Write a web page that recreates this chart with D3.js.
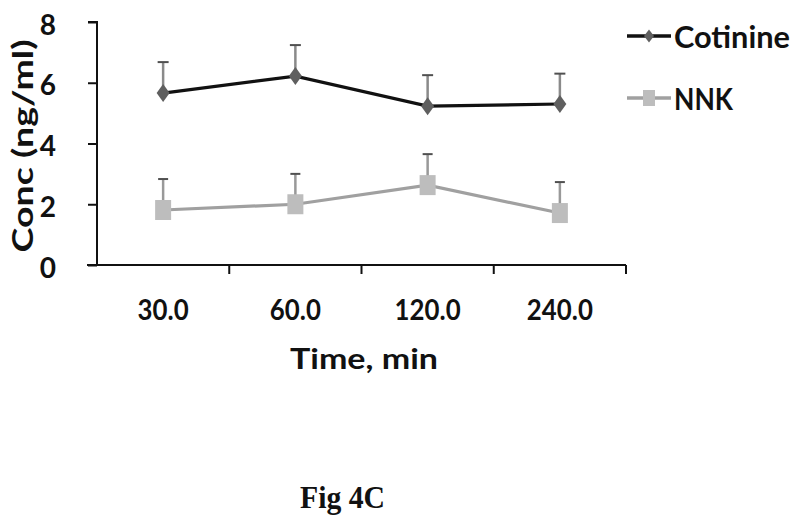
<!DOCTYPE html>
<html><head><meta charset="utf-8">
<script src="https://cdn.jsdelivr.net/npm/d3@7"></script>
<style>body{margin:0;background:#fff}svg{display:block}</style>
</head><body>
<svg id="c" width="800" height="524"></svg>
<script>
const categories = ["30.0", "60.0", "120.0", "240.0"];
const cotinine = [5.66, 6.22, 5.23, 5.30];
const cotinineErr = [1.02, 1.02, 1.02, 1.0];
const nnk = [1.81, 2.0, 2.63, 1.71];
const nnkErr = [1.02, 1.0, 1.02, 1.02];
const yTicks = [0, 2, 4, 6, 8];

const svg = d3.select("#c");
const x = d3.scaleBand().domain(categories).range([97, 626]).padding(0);
const y = d3.scaleLinear().domain([0, 8]).range([265, 22]);
const font = "Lato, 'Open Sans', sans-serif";

function fit(sel, factor) {
  sel.each(function () {
    const len = this.getComputedTextLength();
    d3.select(this).attr("textLength", len * factor).attr("lengthAdjust", "spacingAndGlyphs");
  });
}
function fitTo(sel, w) {
  sel.attr("textLength", w).attr("lengthAdjust", "spacingAndGlyphs");
}

// Y axis
const ya = svg.append("g").attr("transform", "translate(97,0)")
  .call(d3.axisLeft(y).tickValues(yTicks).tickSize(9).tickPadding(32).tickFormat(d3.format("d")));
ya.select(".domain").attr("stroke", "#111").attr("stroke-width", 2).attr("d", `M-9,${y(8)}H0V${y(0)}`);
ya.selectAll(".tick line").attr("stroke", "#111").attr("stroke-width", 2);
ya.selectAll(".tick text").attr("font-family", font).attr("font-weight", "bold").attr("font-size", 28)
  .attr("fill", "#111").attr("dy", 12);

// X axis
const xa = svg.append("g").attr("transform", "translate(0,265)")
  .call(d3.axisBottom(x).tickSize(0));
xa.select(".domain").attr("stroke", "#111").attr("stroke-width", 2).attr("d", `M87,0H${x.range()[1]}`);
const xt = xa.selectAll(".tick text").attr("font-family", font).attr("font-weight", "bold").attr("font-size", 29)
  .attr("fill", "#111").attr("y", 55).attr("dy", 0);
fit(xt, 0.89);
const bounds = categories.map(c => x(c)).concat([x.range()[1]]);
xa.selectAll(".bt").data(bounds.slice(1)).enter().append("line")
  .attr("x1", d => d).attr("x2", d => d).attr("y1", 0).attr("y2", 9)
  .attr("stroke", "#111").attr("stroke-width", 2);

// axis titles
fitTo(svg.append("text").attr("x", 364).attr("y", 369).attr("text-anchor", "middle")
  .attr("font-family", font).attr("font-weight", "bold").attr("font-size", 28).attr("fill", "#111").text("Time, min"), 148);
fitTo(svg.append("text").attr("transform", "translate(33,146) rotate(-90)").attr("text-anchor", "middle")
  .attr("font-family", font).attr("font-weight", "bold").attr("font-size", 28).attr("fill", "#111").text("Conc (ng/ml)"), 213);

const cx = d => x(d) + x.bandwidth() / 2;
const diamond = (w, h) => `M0,${-h}L${w},0L0,${h}L${-w},0Z`;
const square = (w, h) => `M${-w},${-h}H${w}V${h}H${-w}Z`;

function series(vals, errs, lineColor, lineW, errColor, capW, markerColor, shapePath) {
  const pts = categories.map((c, i) => ({c, v: vals[i], e: errs[i]}));
  svg.append("g").selectAll("line").data(pts).enter().append("line")
    .attr("x1", d => cx(d.c)).attr("x2", d => cx(d.c))
    .attr("y1", d => y(d.v)).attr("y2", d => y(d.v + d.e))
    .attr("stroke", errColor).attr("stroke-width", 2.5);
  svg.append("g").selectAll("line").data(pts).enter().append("line")
    .attr("x1", d => cx(d.c) - capW).attr("x2", d => cx(d.c) + capW)
    .attr("y1", d => y(d.v + d.e)).attr("y2", d => y(d.v + d.e))
    .attr("stroke", "#505050").attr("stroke-width", 2);
  svg.append("path").datum(pts)
    .attr("d", d3.line().x(d => cx(d.c)).y(d => y(d.v)))
    .attr("fill", "none").attr("stroke", lineColor).attr("stroke-width", lineW);
  svg.append("g").selectAll("path").data(pts).enter().append("path")
    .attr("transform", d => `translate(${cx(d.c)},${y(d.v)})`)
    .attr("d", shapePath)
    .attr("fill", markerColor);
}
series(cotinine, cotinineErr, "#111", 3.2, "#8a8a8a", 5.5, "#5f5f5f", diamond(6.5, 9));
series(nnk, nnkErr, "#a0a0a0", 3.2, "#999", 5, "#bdbdbd", square(8, 10));

// legend
const legend = [
  {name: "Cotinine", line: "#111", marker: "#5f5f5f", path: diamond(5, 6.5), y: 36, w: 116},
  {name: "NNK", line: "#a0a0a0", marker: "#bdbdbd", path: square(6, 8), y: 98, w: 59}
];
const lg = svg.append("g");
legend.forEach(l => {
  lg.append("line").attr("x1", 627).attr("x2", 671).attr("y1", l.y).attr("y2", l.y)
    .attr("stroke", l.line).attr("stroke-width", 3.5);
  lg.append("path").attr("transform", `translate(649,${l.y})`).attr("d", l.path).attr("fill", l.marker);
  fitTo(lg.append("text").attr("x", 674).attr("y", l.y + 12)
    .attr("font-family", font).attr("font-weight", "bold").attr("font-size", 31).attr("fill", "#111").text(l.name), l.w);
});

// figure caption
fitTo(svg.append("text").attr("x", 300).attr("y", 508)
  .attr("font-family", "'Liberation Serif', 'Times New Roman', serif").attr("font-weight", "bold")
  .attr("font-size", 32).attr("fill", "#111").text("Fig 4C"), 85);
</script>
</body></html>
